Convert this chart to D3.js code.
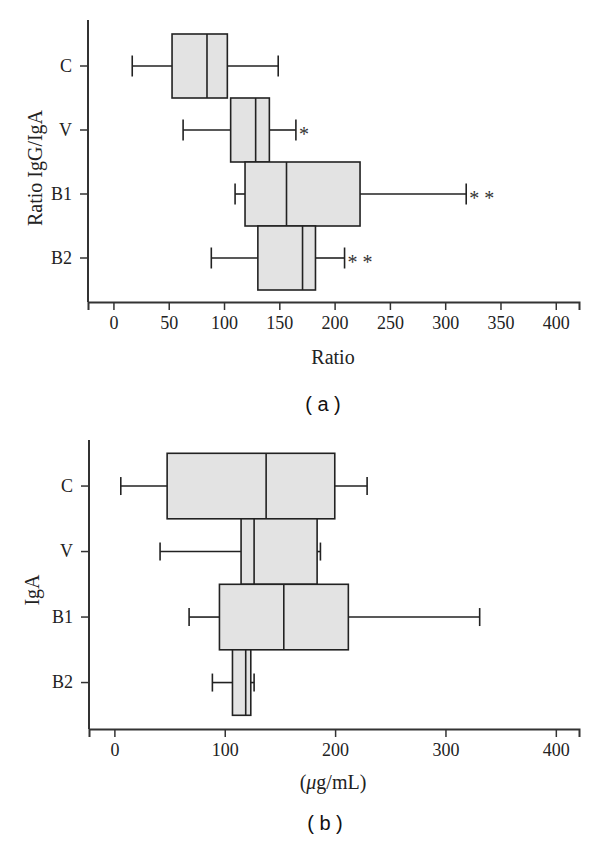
<!DOCTYPE html>
<html><head><meta charset="utf-8">
<script src="https://cdn.jsdelivr.net/npm/d3@7"></script>
<style>body{margin:0;background:#fff}svg{display:block}
.serif{font-family:"Liberation Serif","DejaVu Serif","Times New Roman",Times,serif}
.sans{font-family:"Liberation Sans","DejaVu Sans",Arial,sans-serif}
</style>
</head><body>
<svg id="c" width="600" height="844"></svg>
<script>
const categories = ["C", "V", "B1", "B2"];
const xTicksA = [0, 50, 100, 150, 200, 250, 300, 350, 400];
const xTicksB = [0, 100, 200, 300, 400];
// Panel (a): Ratio IgG/IgA
const ratioLow    = [17, 63, 110, 88.5];
const ratioQ1     = [53, 106, 119, 130.6];
const ratioMedian = [84.6, 128.6, 156.5, 171];
const ratioQ3     = [103, 141, 223, 182.7];
const ratioHigh   = [149, 165, 319, 209];
const ratioMarks  = ["", "*", "* *", "* *"];
// Panel (b): IgA (µg/mL)
const igaLow    = [5.8, 41.4, 67.7, 88.8];
const igaQ1     = [47.8, 114.8, 95.2, 107];
const igaMedian = [137.5, 126.6, 153.5, 119];
const igaQ3     = [199.7, 183.7, 212, 123.6];
const igaHigh   = [229, 186.7, 331, 126.6];
const igaMarks  = ["", "", "", ""];

const svg = d3.select("#c");

function panel(cfg) {
  const g = svg.append("g");
  const x = d3.scaleLinear().domain([-23, 421]).range([cfg.left, cfg.right]);
  const y = d3.scaleBand().domain(categories).range([cfg.bandTop, cfg.bandBottom]).padding(0);
  const data = categories.map((c, i) => ({c, lo: cfg.low[i], q1: cfg.q1[i], md: cfg.med[i], q3: cfg.q3[i], hi: cfg.high[i], mk: cfg.marks[i]}));

  g.append("line").attr("x1", cfg.left).attr("x2", cfg.left).attr("y1", cfg.axTop).attr("y2", cfg.axBottom)
    .attr("stroke", "#333").attr("stroke-width", 2);
  const xa = g.append("g").attr("transform", `translate(0,${cfg.axBottom})`)
    .call(d3.axisBottom(x).tickValues(cfg.ticks).tickSizeOuter(0).tickSize(8).tickPadding(6));
  xa.attr("font-family", null).attr("font-size", null);
  xa.select(".domain").attr("stroke", "#333").attr("stroke-width", 2);
  xa.selectAll(".tick line").attr("stroke", "#333").attr("stroke-width", 1.5);
  xa.selectAll(".tick text").attr("class", "serif").style("font-size", "18px").attr("fill", "#222");

  const ya = g.append("g").attr("transform", `translate(${cfg.left},0)`)
    .call(d3.axisLeft(y).tickSize(8).tickPadding(8));
  ya.attr("font-family", null).attr("font-size", null);
  ya.select(".domain").remove();
  ya.selectAll(".tick line").attr("stroke", "#333").attr("stroke-width", 1.5);
  ya.selectAll(".tick text").attr("class", "serif").style("font-size", "18px").attr("fill", "#222");

  const bw = y.bandwidth();
  const cap = cfg.cap;
  const items = g.selectAll("g.box").data(data).join("g").attr("class", "box");
  items.each(function(d) {
    const s = d3.select(this);
    const cy = y(d.c) + bw / 2;
    const ln = (x1, y1, x2, y2) => s.append("line").attr("x1", x1).attr("y1", y1).attr("x2", x2).attr("y2", y2)
      .attr("stroke", "#222").attr("stroke-width", 1.6);
    ln(x(d.lo), cy, x(d.q1), cy);
    ln(x(d.q3), cy, x(d.hi), cy);
    ln(x(d.lo), cy - cap, x(d.lo), cy + cap);
    ln(x(d.hi), cy - cap, x(d.hi), cy + cap);
    s.append("rect").attr("x", x(d.q1)).attr("y", y(d.c)).attr("width", x(d.q3) - x(d.q1)).attr("height", bw)
      .attr("fill", "#e3e3e3").attr("stroke", "#222").attr("stroke-width", 1.6);
    ln(x(d.md), y(d.c), x(d.md), y(d.c) + bw);
    if (d.mk) {
      s.append("text").attr("class", "serif").attr("x", x(d.hi) + 3).attr("y", cy + 11)
        .style("font-size", "20px").attr("fill", "#333").style("white-space", "pre").text(d.mk);
    }
  });

  g.append("text").attr("class", "serif").attr("transform", `translate(${cfg.yTitleX},${cfg.yTitleY}) rotate(-90)`)
    .attr("text-anchor", "middle").attr("dominant-baseline", "central")
    .style("font-size", "20px").attr("fill", "#222").text(cfg.yTitle);
  const xt = g.append("text").attr("class", "serif").attr("x", 333).attr("y", cfg.xTitleY).attr("text-anchor", "middle")
    .attr("dominant-baseline", "central").style("font-size", "20px").attr("fill", "#222");
  if (cfg.xTitleParts) {
    cfg.xTitleParts.forEach(p => xt.append("tspan").attr("font-style", p.italic ? "italic" : "normal").text(p.t));
  } else xt.text(cfg.xTitle);
  g.append("text").attr("class", "sans").attr("x", cfg.capX).attr("y", cfg.capY).attr("text-anchor", "middle")
    .attr("dominant-baseline", "central").style("font-size", "20px").attr("fill", "#111")
    .style("white-space", "pre").text(cfg.caption);
}

panel({left: 88, right: 579, axTop: 20, axBottom: 302, bandTop: 34, bandBottom: 290, ticks: xTicksA,
  low: ratioLow, q1: ratioQ1, med: ratioMedian, q3: ratioQ3, high: ratioHigh, marks: ratioMarks, cap: 10.5,
  yTitle: "Ratio IgG/IgA", yTitleX: 35, yTitleY: 168, xTitle: "Ratio", xTitleY: 357,
  caption: "( a )", capX: 323, capY: 404});

panel({left: 89, right: 579, axTop: 440, axBottom: 729, bandTop: 453.3, bandBottom: 715.3, ticks: xTicksB,
  low: igaLow, q1: igaQ1, med: igaMedian, q3: igaQ3, high: igaHigh, marks: igaMarks, cap: 9,
  yTitle: "IgA", yTitleX: 32, yTitleY: 590, xTitleParts: [{t: "("}, {t: "\u03bc", italic: true}, {t: "g/mL)"}], xTitleY: 782,
  caption: "( b )", capX: 325, capY: 823});
</script>
</body></html>
